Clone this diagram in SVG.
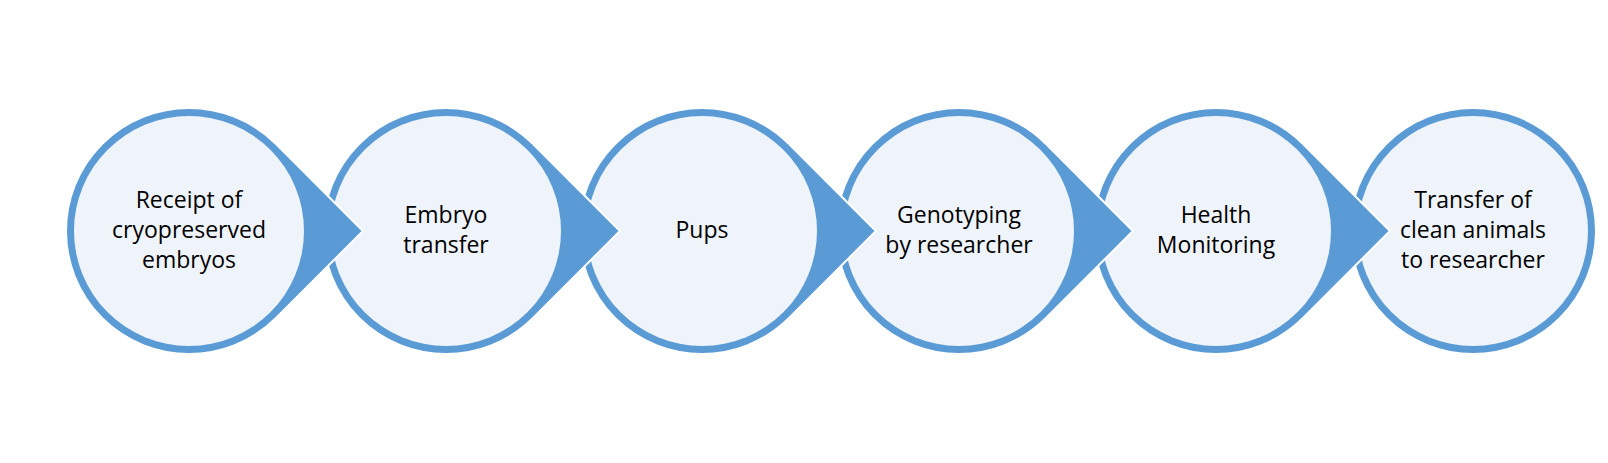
<svg xmlns="http://www.w3.org/2000/svg" width="1608" height="463" viewBox="0 0 1608 463">
<style>
.ring{fill:#5B9BD5;stroke:#FFFFFF;stroke-width:2}
.inner{fill:#EFF4FB}
.ptr{fill:#5B9BD5}
.edge{fill:none;stroke:#FFFFFF;stroke-width:2;stroke-linejoin:miter}
.lbl{font-family:"Open Sans","Noto Sans","Liberation Sans",sans-serif;font-size:23px;fill:#000000;text-anchor:middle}
</style>
<defs>
<g id="circ"><circle class="ring" cx="0" cy="0" r="123"/><circle class="inner" cx="0" cy="0" r="115"/></g>
<g id="pointer"><path class="ptr" d="M86.97,-86.97 L173.95,0 L86.97,86.97 L83.44,83.44 A118,118 0 0 0 83.44,-83.44 Z"/><polyline class="edge" points="86.97,-86.97 173.95,0 86.97,86.97"/></g>
</defs>
<rect width="1608" height="463" fill="#FFFFFF"/>
<g id="node1" transform="translate(189,231)"><use href="#circ"/>
<text class="lbl" x="0" y="-23">Receipt of</text><text class="lbl" x="0" y="7">cryopreserved</text><text class="lbl" x="0" y="37">embryos</text></g>
<g id="node2" transform="translate(446,231)"><use href="#circ"/>
<text class="lbl" x="0" y="-8">Embryo</text><text class="lbl" x="0" y="22">transfer</text></g>
<g id="node3" transform="translate(702,231)"><use href="#circ"/>
<text class="lbl" x="0" y="7">Pups</text></g>
<g id="node4" transform="translate(959,231)"><use href="#circ"/>
<text class="lbl" x="0" y="-8">Genotyping</text><text class="lbl" x="0" y="22">by researcher</text></g>
<g id="node5" transform="translate(1216,231)"><use href="#circ"/>
<text class="lbl" x="0" y="-8">Health</text><text class="lbl" x="0" y="22">Monitoring</text></g>
<g id="node6" transform="translate(1473,231)"><use href="#circ"/>
<text class="lbl" x="0" y="-23">Transfer of</text><text class="lbl" x="0" y="7">clean animals</text><text class="lbl" x="0" y="37">to researcher</text></g>
<g id="connectors">
<use href="#pointer" transform="translate(189,231)"/>
<use href="#pointer" transform="translate(446,231)"/>
<use href="#pointer" transform="translate(702,231)"/>
<use href="#pointer" transform="translate(959,231)"/>
<use href="#pointer" transform="translate(1216,231)"/>
</g>
</svg>
